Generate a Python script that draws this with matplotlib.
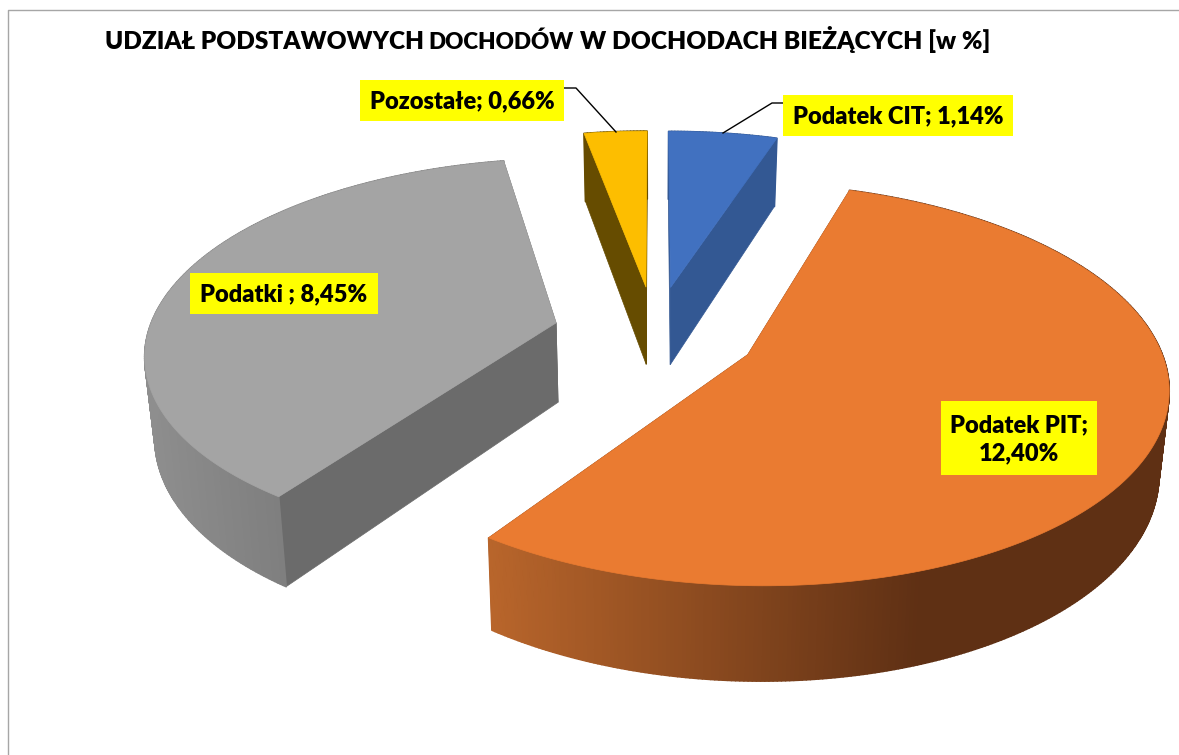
import numpy as np
import matplotlib
matplotlib.use('Agg')
import matplotlib.pyplot as plt
from matplotlib.collections import PolyCollection
from matplotlib.colors import to_rgb
from matplotlib.patches import Polygon, Rectangle

plt.rcParams['font.family'] = ['Lato', 'DejaVu Sans']

# data, clockwise from the top of the pie
categories = ['Podatek CIT', 'Podatek PIT', 'Podatki ', 'Pozostałe']
values = [1.14, 12.40, 8.45, 0.66]
label_lines = [False, True, False, False]

top_colors = ['#4171C0', '#EA7B31', '#A4A4A4', '#FDBE00']
cut_colors = ['#335893', '#5F3014', '#6B6B6B', '#664C00']
wall_left = ['#335893', '#B8652B', '#8E8E8E', '#664C00']
wall_right = ['#335893', '#5F3014', '#7E7E7E', '#664C00']
wall_fade_end = [800, 920, 285, 650]
wall_fade_start = [670, 490, 145, 580]

# projection of the pie plane onto the picture
CX, CY = 655, 333
A, B, K = 408, 142.7, 0.1444
EXPLODE = 0.25
DEPTH = 80
SHRINK = 0.98


def project(x, y):
    s = 1 / (1 + K * y)
    return CX + A * x * s, (CY - B * y) * s, s


def lower(px, py, s):
    return CX + (px - CX) * SHRINK, py + DEPTH * s


fig = plt.figure(figsize=(11.79, 7.55), dpi=100)
ax = fig.add_axes([0, 0, 1, 1])
ax.set_xlim(0, 1179)
ax.set_ylim(755, 0)
ax.axis('off')

ax.plot([7.5, 7.5, 1179], [755, 9.5, 9.5], color='#A6A6A6', lw=1.0)

total = sum(values)
start = 0.0
for i, v in enumerate(values):
    sweep = v / total * 2 * np.pi
    mid = start + sweep / 2
    ox, oy = EXPLODE * np.sin(mid), EXPLODE * np.cos(mid)
    th = np.linspace(start, start + sweep, max(int(np.degrees(sweep) * 2), 8))
    rx, ry, rs = project(ox + np.sin(th), oy + np.cos(th))
    ax_, ay_, as_ = project(ox, oy)
    bx, by = lower(rx, ry, rs)
    abx, aby = lower(ax_, ay_, as_)

    # straight cut faces
    for j in (0, -1):
        ax.add_patch(Polygon([(ax_, ay_), (rx[j], ry[j]), (bx[j], by[j]), (abx, aby)],
                             closed=True, fc=cut_colors[i], ec=cut_colors[i], lw=0.5, zorder=2))

    # outer wall, shaded along x
    c0, c1 = np.array(to_rgb(wall_left[i])), np.array(to_rgb(wall_right[i]))
    quads, cols = [], []
    for n in range(len(th) - 1):
        quads.append([(rx[n], ry[n]), (rx[n + 1], ry[n + 1]), (bx[n + 1], by[n + 1]), (bx[n], by[n])])
        t = np.clip(((rx[n] + rx[n + 1]) / 2 - wall_fade_start[i]) / (wall_fade_end[i] - wall_fade_start[i]), 0, 1)
        cols.append(c0 + (c1 - c0) * t)
    ax.add_collection(PolyCollection(quads, facecolors=cols, edgecolors=cols, linewidths=1.2, zorder=3))

    # top face
    ax.add_patch(Polygon(np.column_stack([np.r_[ax_, rx], np.r_[ay_, ry]]),
                         closed=True, fc=top_colors[i], ec=top_colors[i], lw=0.5, zorder=4))
    start += sweep

# title, the middle word is set a little smaller
title_base = 49
ax.text(105, title_base, 'UDZIAŁ PODSTAWOWYCH', fontsize=17.6, fontweight='heavy', va='baseline', ha='left', zorder=6)
ax.text(428, title_base, 'DOCHODÓW', fontsize=16.2, fontweight='heavy', va='baseline', ha='left', zorder=6)
ax.text(580, title_base, 'W DOCHODACH BIEŻĄCYCH [w %]', fontsize=17.7, fontweight='heavy', va='baseline', ha='left', zorder=6)

# data labels
label_boxes = [(783, 95, 230, 41), (941, 401, 156, 74), (190, 273, 188, 41), (360, 80, 204, 41)]
for i, (x, y, w, h) in enumerate(label_boxes):
    val = f'{values[i]:.2f}'.replace('.', ',') + '%'
    sep = ';\n' if label_lines[i] else '; '
    ax.add_patch(Rectangle((x, y), w, h, fc='#FFFF00', ec='none', zorder=7))
    ax.text(x + w / 2, y + h / 2 + 1, categories[i] + sep + val, fontsize=17, fontweight='heavy',
            ha='center', va='center', linespacing=1.35, zorder=8)

# leader lines
ax.plot([783, 772, 723], [103, 103, 133], color='black', lw=1.0, zorder=6)
ax.plot([564, 576, 616], [88, 88, 132], color='black', lw=1.0, zorder=6)

fig.savefig('out.png', dpi=100)
